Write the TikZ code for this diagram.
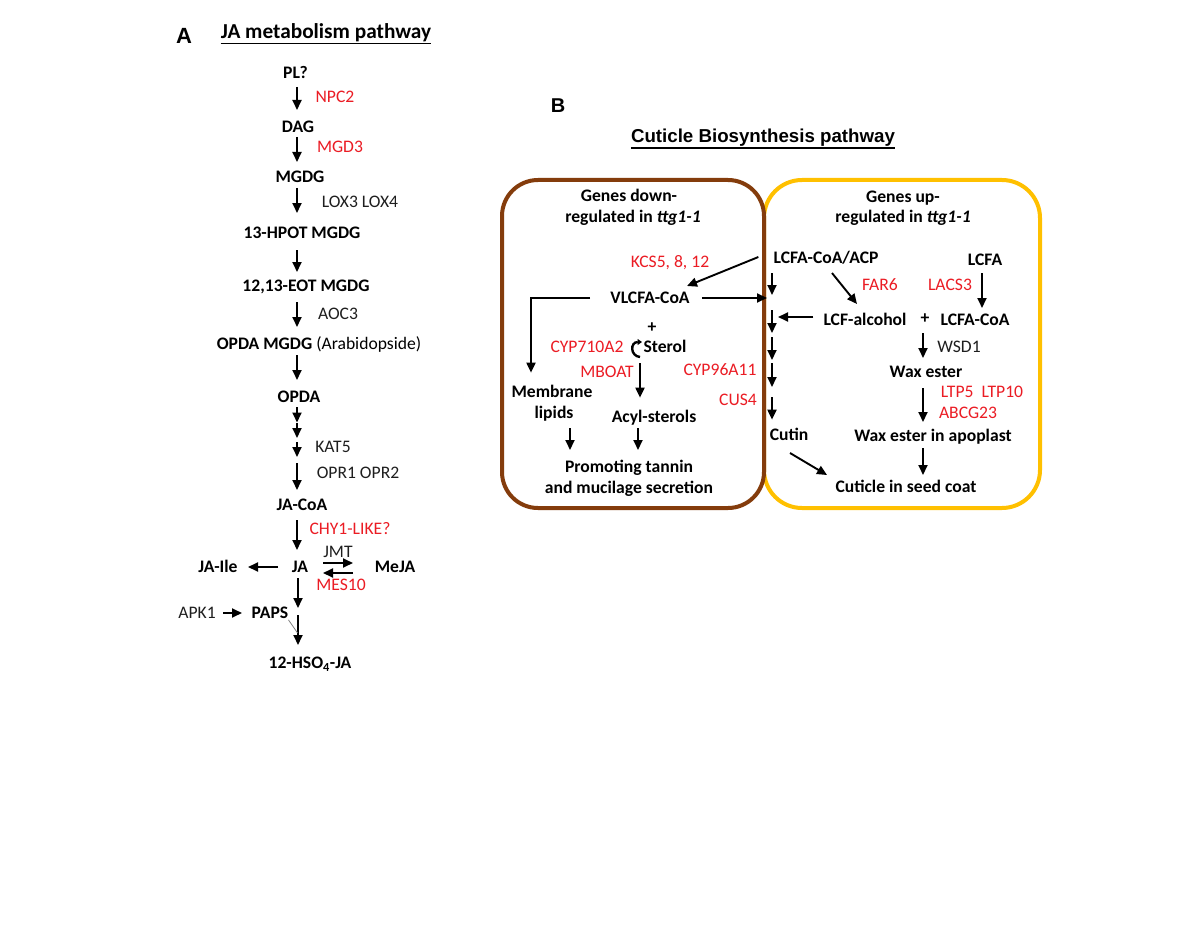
\documentclass[tikz,border=0pt]{standalone}
\usepackage{fontspec}
\setmainfont{Carlito}
\newfontfamily\arialfont{Liberation Sans}
\usetikzlibrary{arrows.meta}
\definecolor{genered}{RGB}{235,28,36}
\definecolor{boxbrown}{RGB}{132,60,12}
\definecolor{boxgold}{RGB}{255,192,0}
\definecolor{enzgray}{RGB}{30,30,30}
\begin{document}
\begin{tikzpicture}[x=1pt,y=-1pt,
  met/.style={font=\fontsize{17.6}{20}\selectfont\bfseries, inner sep=0pt, text height=11.3pt, text depth=0pt},
  enz/.style={font=\fontsize{17.6}{20}\selectfont, text=enzgray, inner sep=0pt, text height=11.3pt, text depth=0pt},
  gene/.style={enz, text=genered},
  arr/.style={line width=1.9pt, -{Triangle[length=10pt,width=9pt]}},
  curlarr/.style={line width=2.4pt, -{Triangle[length=4.5pt,width=6pt]}},
  ulin/.style={line width=1.5pt},
]
\fill[white] (0,0) rectangle (1200,931);
\useasboundingbox (0,0) rectangle (1200,931);

% ---------------- Panel A ----------------
\node[font=\arialfont\bfseries\fontsize{22}{24}\selectfont, inner sep=0pt, text height=15.8pt, text depth=0pt] (labA) at (184,36) {A};
\node[met, font=\fontsize{21.3}{24}\selectfont\bfseries, text height=13.7pt] (tA) at (326,31.5) {JA metabolism pathway};
\draw[ulin] ([yshift=-5pt]tA.south west) -- ([yshift=-5pt]tA.south east);

\coordinate (ax) at (297,0);

\node[met] (PL) at (295.5,73) {PL?};
\node[met] (DAG) at (298,127) {DAG};
\node[met] (MGDG) at (300,177) {MGDG};
\node[met] (HPOT) at (302,233) {13-HPOT MGDG};
\node[met] (EOT) at (306,286) {12,13-EOT MGDG};
\node[met] (OPDAM) at (319,344) {OPDA MGDG {\mdseries (Arabidopside)}};
\node[met] (OPDA) at (299,397) {OPDA};
\node[met] (JACoA) at (302,505) {JA-CoA};
\node[met] (JA) at (300,567) {JA};
\node[met] (JAIle) at (218,567) {JA-Ile};
\node[met] (MeJA) at (395,567) {MeJA};
\node[met] (PAPS) at (270,613) {PAPS};
\node[enz] (APK1) at (197,613) {APK1};
\node[met] (HSO) at (310,663) {12-HSO\textsubscript{4}-JA};

\node[gene] (NPC2) at (335,97) {NPC2};
\node[gene] (MGD3) at (340,147) {MGD3};
\node[enz] (LOX) at (360,202) {LOX3 LOX4};
\node[enz] (AOC3) at (338,314) {AOC3};
\node[enz] (KAT5) at (333,447) {KAT5};
\node[enz] (OPR) at (358,473) {OPR1 OPR2};
\node[gene] (CHY) at (350,529) {CHY1-LIKE?};
\node[enz] (JMT) at (338,552) {JMT};
\node[gene] (MES10) at (341,585) {MES10};

\coordinate (k1) at (297,422.5);
\coordinate (k2) at (297,440);
\coordinate (k3) at (297,460);
\coordinate (jm) at (298,611);

\draw[arr, shorten <=14pt, shorten >=17pt] (ax |- PL.center) -- (ax |- DAG.center);
\draw[arr, shorten <=10pt, shorten >=15pt] (ax |- DAG.center) -- (ax |- MGDG.center);
\draw[arr, shorten <=11pt, shorten >=20pt] (ax |- MGDG.center) -- (ax |- HPOT.center);
\draw[arr, shorten <=17pt, shorten >=14pt] (ax |- HPOT.center) -- (ax |- EOT.center);
\draw[arr, shorten <=16pt, shorten >=17pt] (ax |- EOT.center) -- (ax |- OPDAM.center);
\draw[arr, shorten <=11pt, shorten >=17pt] (ax |- OPDAM.center) -- (ax |- OPDA.center);
\draw[arr, shorten <=10pt] (ax |- OPDA.center) -- (k1);
\draw[arr, shorten <=0.5pt, shorten >=2pt] (k1) -- (k2);
\draw[arr, shorten <=2pt, shorten >=3pt] (k2) -- (k3);
\draw[arr, shorten <=3pt, shorten >=15pt] (k3) -- (ax |- JACoA.center);
\draw[arr, shorten <=15pt, shorten >=17pt] (ax |- JACoA.center) -- (ax |- JA.center);
\draw[arr, shorten <=11pt, shorten >=3pt] (JA.center -| jm) -- (jm);
\draw[arr, shorten <=4pt, shorten >=18pt] (jm) -- (jm |- HSO.center);

\draw[arr, shorten <=22pt, shorten >=30pt] (JA.center) -- (JAIle.center);
\draw[arr, shorten <=23pt, shorten >=42pt] ([yshift=4pt]JA.center) -- ([yshift=4pt]MeJA.center);
\draw[arr, shorten <=42pt, shorten >=23pt] ([yshift=-6pt]MeJA.center) -- ([yshift=-6pt]JA.center);
\draw[arr, shorten <=26pt, shorten >=28pt] (APK1.center) -- (PAPS.center);
\draw[gray, line width=0.8pt] ([yshift=-1pt]PAPS.south east) -- ([xshift=9pt,yshift=-14pt]PAPS.south east);

% ---------------- Panel B ----------------
\node[font=\arialfont\bfseries\fontsize{20}{24}\selectfont, inner sep=0pt, text height=14.3pt, text depth=0pt] (labB) at (558,105) {B};
\node[font=\arialfont\bfseries\fontsize{18.7}{22}\selectfont, inner sep=0pt, text height=13.4pt, text depth=0pt] (tB) at (763,135.5) {Cuticle Biosynthesis pathway};
\draw[ulin] ([yshift=-5.5pt]tB.south west) -- ([yshift=-5.5pt]tB.south east);

\draw[boxgold, line width=4pt, rounded corners=38pt] (764,180) rectangle (1040,508);
\draw[boxbrown, line width=4pt, rounded corners=36pt] (502,180) rectangle (764,508);

\node[met] (d1) at (629,196) {Genes down-};
\node[met] (d2) at (633,217) {regulated in \textit{ttg1-1}};
\node[met] (u1) at (903,197) {Genes up-};
\node[met] (u2) at (903,217) {regulated in \textit{ttg1-1}};

\node[met] (VLCFA) at (650,298) {VLCFA-CoA};
\node[met] (plus1) at (652,327) {+};
\node[met] (Sterol) at (665,347) {Sterol};
\node[met] (mem1) at (552,392) {Membrane};
\node[met] (mem2) at (554,413) {lipids};
\node[met] (Acyl) at (654,417) {Acyl-sterols};
\node[met] (pro1) at (629,467) {Promoting tannin};
\node[met] (pro2) at (629,488) {and mucilage secretion};

\node[met] (LCFAACP) at (826,258) {LCFA-CoA/ACP};
\node[met] (LCFA) at (985,260) {LCFA};
\node[met] (LCFalc) at (865,320) {LCF-alcohol};
\node[met] (plus2) at (925,318) {+};
\node[met] (LCFACoA) at (975,320) {LCFA-CoA};
\node[met] (Wax) at (926,372) {Wax ester};
\node[met] (WaxAp) at (933,436) {Wax ester in apoplast};
\node[met] (Cutin) at (789,435) {Cutin};
\node[met] (Cuticle) at (906,487) {Cuticle in seed coat};

\node[gene] (KCS) at (670,262) {KCS5, 8, 12};
\node[gene] (CYP710) at (587,347) {CYP710A2};
\node[gene] (MBOAT) at (607,372) {MBOAT};
\node[gene] (CYP96) at (720,370) {CYP96A11};
\node[gene] (CUS4) at (738,400) {CUS4};
\node[gene] (FAR6) at (880,285) {FAR6};
\node[gene] (LACS3) at (950,285) {LACS3};
\node[enz] (WSD1) at (959,347) {WSD1};
\node[gene] (LTP) at (982,392) {LTP5\ \ LTP10};
\node[gene] (ABCG) at (968,413) {ABCG23};

\coordinate (j1) at (772,298);
\coordinate (j1b) at (772,317);
\coordinate (j2) at (772,335);
\coordinate (j3) at (772,362);
\coordinate (j4) at (772,390);
\coordinate (curl) at (640,357);

\draw[arr] ([xshift=-15pt,yshift=1pt]LCFAACP.west) -- ([xshift=37pt,yshift=12pt]VLCFA.center);
\draw[arr] ([xshift=-20pt]VLCFA.west) -| ([xshift=-21pt,yshift=13.5pt]mem1.north);
\draw[arr, shorten >=5pt] ([xshift=12pt]VLCFA.east) -- (j1);
\draw[arr, shorten <=9.5pt, shorten >=3pt] (j1 |- LCFAACP.south) -- (j1);
\draw[arr, shorten <=12pt, shorten >=2pt] (j1) -- (j2);
\draw[arr, shorten <=2pt, shorten >=2pt] (j2) -- (j3);
\draw[arr, shorten <=1pt, shorten >=3pt] (j3) -- (j4);
\draw[arr, shorten <=7pt, shorten >=9.5pt] (j4) -- (j4 |- Cutin.north);
\draw[arr, shorten >=6pt] ([xshift=-10pt,yshift=3pt]LCFalc.west) -- (j1b);
\draw[arr] ([xshift=6pt,yshift=-15pt]LCFAACP.center) -- ([xshift=-8pt,yshift=16pt]LCFalc.center);
\draw[arr] ([xshift=-3pt,yshift=-13pt]LCFA.center) -- ([xshift=7pt,yshift=12pt]LCFACoA.center);
\draw[arr] ([xshift=-2pt,yshift=-15pt]plus2.center) -- ([xshift=-3pt,yshift=14pt]Wax.center);
\draw[arr] ([xshift=-3pt,yshift=-16pt]Wax.center) -- ([xshift=-10pt,yshift=14pt]WaxAp.center);
\draw[arr] ([xshift=-10pt,yshift=-12pt]WaxAp.center) -- ([xshift=17pt,yshift=12pt]Cuticle.center);
\draw[arr] ([xshift=1pt,yshift=-18pt]Cutin.center) -- ([xshift=-79pt,yshift=12pt]Cuticle.center);
\draw[curlarr] (curl) .. controls (630,356) and (630,342) .. (642,342);
\draw[arr, shorten <=6pt, shorten >=13.5pt] (curl) -- (curl |- Acyl.north);
\draw[arr] ([xshift=16pt,yshift=-15pt]mem2.center) -- ([xshift=-59pt,yshift=17pt]pro1.center);
\draw[arr] ([xshift=-16pt,yshift=-11pt]Acyl.center) -- ([xshift=9pt,yshift=17pt]pro1.center);
\end{tikzpicture}
\end{document}
